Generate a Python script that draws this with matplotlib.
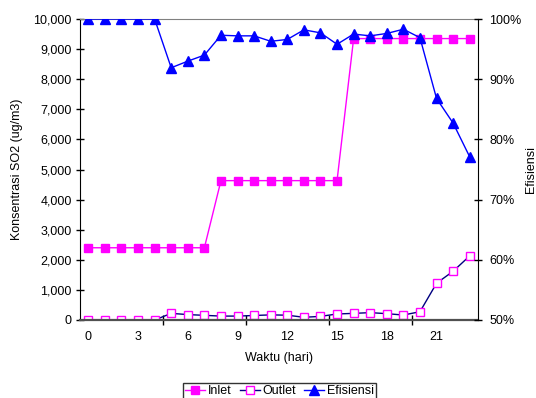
import matplotlib
matplotlib.use("Agg")
import matplotlib.pyplot as plt
from matplotlib.ticker import FuncFormatter

plt.rcParams['font.family'] = ['Liberation Sans', 'DejaVu Sans']
plt.rcParams['font.size'] = 9

# data
hari = list(range(24))
inlet = [2400] * 8 + [4630] * 8 + [9350] * 8
outlet = [0, 0, 0, 0, 0, 220, 180, 155, 130, 130, 150, 170, 160, 90,
          120, 200, 220, 245, 210, 165, 275, 1220, 1620, 2130]
efisiensi = [100, 100, 100, 100, 100, 91.9, 93.0, 94.0, 97.3, 97.2, 97.2,
             96.3, 96.6, 98.2, 97.7, 95.8, 97.5, 97.2, 97.6, 98.3, 96.9,
             86.8, 82.7, 77.1]
x_labels = [0, 3, 6, 9, 12, 15, 18, 21]

fig = plt.figure(figsize=(5.36, 3.98), dpi=100)
ax = fig.add_axes([80 / 536, 78 / 398, 398 / 536, 301 / 398])
ax2 = ax.twinx()

l1, = ax.plot(hari, inlet, color='#FF00FF', lw=1, marker='s', ms=6,
              mfc='#FF00FF', mec='#FF00FF', label='Inlet')
l2, = ax.plot(hari, outlet, color='#000080', lw=1, marker='s', ms=6,
              mfc='white', mec='#FF00FF', mew=1, label='Outlet')
l3, = ax2.plot(hari, efisiensi, color='#0000FF', lw=1, marker='^', ms=7,
               mfc='#0000FF', mec='#0000FF', label='Efisiensi')

ax.set_xlim(-0.5, 23.5)
ax.set_ylim(0, 10000)
ax2.set_ylim(50, 100)

ax.set_yticks(range(0, 10001, 1000))
ax.yaxis.set_major_formatter(FuncFormatter(lambda v, p: f'{int(v):,}'))
ax2.set_yticks(range(50, 101, 10))
ax2.yaxis.set_major_formatter(FuncFormatter(lambda v, p: f'{int(v)}%'))

ax.set_xticks(x_labels)
ax.set_xticks([4.5, 9.5, 14.5, 19.5], minor=True)
ax.tick_params(axis='x', which='major', length=0, pad=8)
ax.tick_params(axis='x', which='minor', direction='inout', length=7, width=1)
ax.tick_params(axis='y', direction='inout', length=6, width=1, pad=3)
ax2.tick_params(axis='y', direction='inout', length=6, width=1, pad=5)

# spines
ax.spines['right'].set_visible(False)
ax.spines['top'].set_color('#808080')
ax.spines['bottom'].set_color('#505050')
ax.spines['bottom'].set_linewidth(1.6)
ax.spines['left'].set_color('black')
for s in ['left', 'top', 'bottom']:
    ax2.spines[s].set_visible(False)
ax2.spines['right'].set_color('black')

ax.set_ylabel('Konsentrasi SO2 (ug/m3)')
ax.yaxis.set_label_coords(-0.143, 0.5)
ax2.set_ylabel('Efisiensi')
ax2.yaxis.set_label_coords(1.119, 0.5)
ax.set_xlabel('Waktu (hari)')
ax.xaxis.set_label_coords(0.5, -0.105)

leg = fig.legend(handles=[l1, l2, l3], loc='upper center',
                 bbox_to_anchor=(279.5 / 536, 1 - 383 / 398), ncol=3,
                 frameon=True, fancybox=False, edgecolor='black',
                 handlelength=1.6, handletextpad=0.25, columnspacing=0.6,
                 borderpad=0.2, borderaxespad=0)
leg.get_frame().set_linewidth(1)

fig.savefig('out.png', dpi=100)
